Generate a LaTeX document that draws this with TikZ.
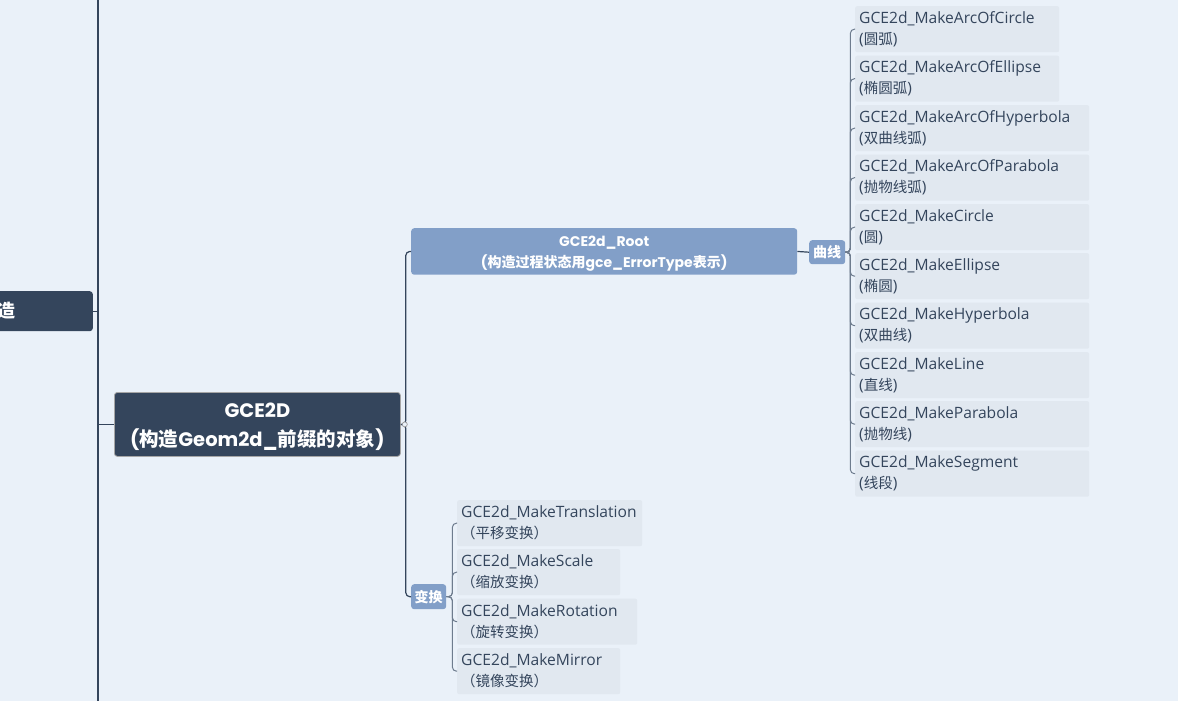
\documentclass[tikz,border=0pt]{standalone}
\usepackage{fontspec}
\setmainfont{Open Sans}
\newfontfamily\cjk{Noto Sans CJK SC}
\newfontfamily\pop{Poppins}
\newcommand{\zh}[1]{{\cjk #1}}
\newcommand{\lzh}[1]{{\cjk\fontsize{14.5}{21}\selectfont #1}}
\definecolor{bgc}{HTML}{EAF1F9}
\definecolor{darkc}{HTML}{34455C}
\definecolor{rootc}{HTML}{829FC8}
\definecolor{leafc}{HTML}{E1E8F0}
\definecolor{txtc}{HTML}{34455C}
\definecolor{linec}{HTML}{34455C}
\definecolor{leaflinec}{HTML}{6E7C8E}
\begin{document}
\begin{tikzpicture}[x=1pt,y=-1pt,
  leaf/.style={fill=leafc, rounded corners=2pt, anchor=north west, align=left,
    inner xsep=4pt, inner ysep=0pt, font=\fontsize{15.6}{21}\selectfont, text=txtc,
    minimum height=46pt},
  darkbox/.style={fill=darkc, rounded corners=3pt, text=white, align=center},
  bluebox/.style={fill=rootc, rounded corners=3pt, text=white, align=center,
    font=\pop\bfseries\fontsize{14}{21}\selectfont},
  conn/.style={draw=linec, line width=1.2pt, rounded corners=4pt},
  lconn/.style={draw=leaflinec, line width=1pt, rounded corners=4pt}]
\fill[bgc] (0,0) rectangle (1178,701);
\useasboundingbox (0,0) rectangle (1178,701);
\coordinate (ttop) at (98,0);
\coordinate (tbot) at (98,701);
\draw[conn] (ttop) -- (tbot);
\begin{scope}
  \clip (0,0) rectangle (1178,701);
  \node[darkbox, anchor=north east, minimum width=160pt, minimum height=40pt] (prev) at (93,291) {};
\end{scope}
\node[text=white, font=\cjk\bfseries\fontsize{18}{20}\selectfont] (prevtxt) at (7,311) {造};
\draw[conn] (prev.east) -- (prev.east -| ttop);

\node[darkbox, draw=gray!70, line width=0.8pt, anchor=north west, minimum width=286pt, minimum height=64pt,
  font=\pop\bfseries\fontsize{19.5}{29}\selectfont] (main) at (114,392)
  {\rule{0pt}{19pt}GCE2D\\(\zh{构造}Geom2d\_\zh{前缀的对象})};
\draw[conn] (main.west) -- (main.west -| ttop);

\node[bluebox, anchor=north west, minimum width=386pt, minimum height=46pt] (root) at (411,228)
  {\rule{0pt}{15pt}GCE2d\_Root\\(\zh{构造过程状态用}gce\_ErrorType\zh{表示})};
\node[bluebox, anchor=north west, minimum width=36pt, minimum height=24pt, inner sep=1pt,
  font=\cjk\bfseries\fontsize{14}{16}\selectfont] (qx) at (809,240) {曲线};
\node[bluebox, anchor=north west, minimum width=35pt, minimum height=25pt, inner sep=1pt,
  font=\cjk\bfseries\fontsize{14}{16}\selectfont] (bh) at (411,584) {变换};

\draw[conn] (main.east) -- ++(5,0) |- (root.west);
\draw[conn] (main.east) -- ++(5,0) |- (bh.west);
\node[circle, draw=gray!80, fill=bgc, line width=0.7pt, inner sep=0pt, minimum size=5pt] (knob) at ([xshift=4pt]main.east) {};
\draw[conn] (root.east) -- (qx.west);

% curve leaves
\node[leaf, text width=196pt] (c1) at (855,6) {GCE2d\_MakeArcOfCircle\\(\lzh{圆弧})};
\node[leaf, text width=196pt] (c2) at (855,55.5) {GCE2d\_MakeArcOfEllipse\\(\lzh{椭圆弧})};
\node[leaf, text width=226pt] (c3) at (855,105) {GCE2d\_MakeArcOfHyperbola\\(\lzh{双曲线弧})};
\node[leaf, text width=226pt] (c4) at (855,154.5) {GCE2d\_MakeArcOfParabola\\(\lzh{抛物线弧})};
\node[leaf, text width=226pt] (c5) at (855,204) {GCE2d\_MakeCircle\\(\lzh{圆})};
\node[leaf, text width=226pt] (c6) at (855,253) {GCE2d\_MakeEllipse\\(\lzh{椭圆})};
\node[leaf, text width=226pt] (c7) at (855,302.5) {GCE2d\_MakeHyperbola\\(\lzh{双曲线})};
\node[leaf, text width=226pt] (c8) at (855,352) {GCE2d\_MakeLine\\(\lzh{直线})};
\node[leaf, text width=226pt] (c9) at (855,401) {GCE2d\_MakeParabola\\(\lzh{抛物线})};
\node[leaf, text width=226pt] (c10) at (855,450.5) {GCE2d\_MakeSegment\\(\lzh{线段})};
\foreach \i in {1,...,10} {\draw[lconn] (qx.east) -- ++(5,0) |- (c\i.west);}

% transform leaves
\node[leaf, text width=177pt] (t1) at (457,500) {GCE2d\_MakeTranslation\\\lzh{（平移变换）}};
\node[leaf, text width=155pt] (t2) at (457,549) {GCE2d\_MakeScale\\\lzh{（缩放变换）}};
\node[leaf, text width=172pt] (t3) at (457,598.5) {GCE2d\_MakeRotation\\\lzh{（旋转变换）}};
\node[leaf, text width=155pt] (t4) at (457,648) {GCE2d\_MakeMirror\\\lzh{（镜像变换）}};
\foreach \i in {1,...,4} {\draw[lconn] (bh.east) -- ++(6,0) |- (t\i.west);}
\end{tikzpicture}
\end{document}
